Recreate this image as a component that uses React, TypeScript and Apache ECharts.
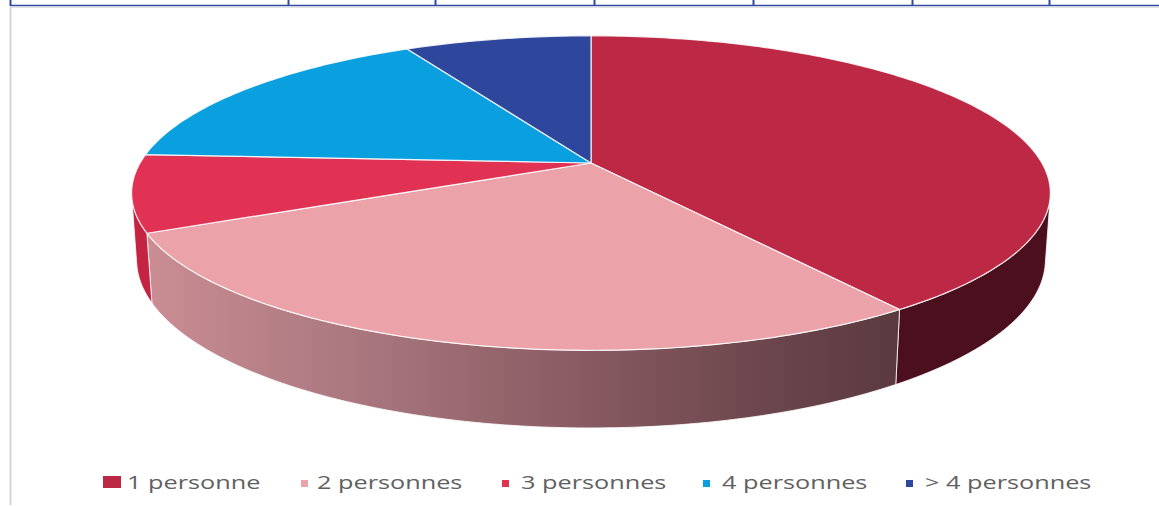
import React, { useEffect, useRef } from "react";
import * as echarts from "echarts";

// ---- data ----
const categories = ["1 personne", "2 personnes", "3 personnes", "4 personnes", "> 4 personnes"];
const shares = [40.2, 27.8, 7.9, 16.2, 7.9];

// ---- styles ----
const topColors = ["#BD2844", "#EBA2A8", "#E13253", "#0A9FDF", "#2E469C"];
const sideColors: any[] = [
  "#4B0F1D",
  new echarts.graphic.LinearGradient(0, 0, 1, 0, [
    { offset: 0, color: "#CA8D93" },
    { offset: 0.27, color: "#AB7880" },
    { offset: 0.53, color: "#8E5F66" },
    { offset: 0.8, color: "#6E484E" },
    { offset: 1, color: "#5A3A40" },
  ]),
  "#C42442",
  "#0679AA",
  "#22347A",
];
const legendMarkerX = [103, 301, 502, 703, 906];
const legendTextX = [127, 317, 521, 722, 925];
const tableTicks = [10, 288, 435, 594, 753, 912, 1049];

// ---- 3D projection (layout) ----
const CX = 591, CY = 163, F = 2223, D = 4.93, SIN = 0.336, H = 0.1545;
const COS = Math.sqrt(1 - SIN * SIN);
function proj(x: number, yw: number, z: number): number[] {
  const cz = -yw * SIN + z * COS + D;
  const cy = yw * COS + z * SIN;
  return [CX + (F * x) / cz, CY - (F * cy) / cz];
}
const thetaL = Math.acos(-1 / (D * COS));
const thetaR = 2 * Math.PI - thetaL;

function arc(a: number, b: number, yw: number): number[][] {
  const pts: number[][] = [];
  const n = Math.max(2, Math.ceil(((b - a) * 180) / Math.PI));
  for (let k = 0; k <= n; k++) {
    const t = a + ((b - a) * k) / n;
    pts.push(proj(Math.sin(t), yw, Math.cos(t)));
  }
  return pts;
}

export default function App() {
  const ref = useRef<HTMLDivElement>(null);
  useEffect(() => {
    if (!ref.current) return;
    const chart = echarts.init(ref.current, null, { renderer: "svg" });
    const total = shares.reduce((s, v) => s + v, 0);
    const cum: number[] = [];
    shares.reduce((s, v, i) => {
      cum[i] = s;
      return s + v;
    }, 0);

    const renderItem = (params: any, api: any) => {
      const i = params.dataIndex;
      const v = api.value(0);
      const start = (cum[i] / total) * 2 * Math.PI;
      const end = ((cum[i] + v) / total) * 2 * Math.PI;
      const children: any[] = [];
      const a = Math.max(start, thetaL);
      const b = Math.min(end, thetaR);
      if (a < b) {
        const topArc = arc(a, b, 0);
        const botArc = arc(a, b, -H).reverse();
        children.push({
          type: "polygon",
          z2: 1,
          shape: { points: topArc.concat(botArc) },
          style: { fill: sideColors[i], stroke: "rgba(255,255,255,0.8)", lineWidth: 1, lineJoin: "round" },
        });
      }
      const topPts = [proj(0, 0, 0)].concat(arc(start, end, 0));
      children.push({
        type: "polygon",
        z2: 10,
        shape: { points: topPts },
        style: { fill: topColors[i], stroke: "rgba(255,255,255,0.85)", lineWidth: 1.2, lineJoin: "round" },
      });
      return { type: "group", children };
    };

    const graphics: any[] = [];
    // table border at top
    graphics.push({
      type: "line",
      shape: { x1: 10, y1: 5.5, x2: 1159, y2: 5.5 },
      style: { stroke: "#2F4A9E", lineWidth: 1.6 },
    });
    tableTicks.forEach((x) =>
      graphics.push({
        type: "line",
        shape: { x1: x + 0.5, y1: 0, x2: x + 0.5, y2: 6 },
        style: { stroke: "#2F4A9E", lineWidth: 2 },
      })
    );
    graphics.push({
      type: "line",
      shape: { x1: 10, y1: 7.5, x2: 1159, y2: 7.5 },
      style: { stroke: "#E3E3E3", lineWidth: 1 },
    });
    graphics.push({
      type: "line",
      shape: { x1: 10.5, y1: 7, x2: 10.5, y2: 505 },
      style: { stroke: "#D6D6D6", lineWidth: 2 },
    });
    // legend
    categories.forEach((name, i) => {
      const big = i === 0;
      graphics.push({
        type: "rect",
        shape: big ? { x: legendMarkerX[i], y: 476, width: 18, height: 12 } : { x: legendMarkerX[i], y: 480, width: 7, height: 7 },
        style: { fill: topColors[i] },
      });
      graphics.push({
        type: "text",
        x: legendTextX[i],
        y: 481.5,
        scaleX: 1.33,
        style: {
          text: name,
          fill: "#606060",
          font: '19px "Open Sans"',
          textVerticalAlign: "middle",
          textAlign: "left",
        },
      });
    });

    chart.setOption({
      animation: false,
      backgroundColor: "#ffffff",
      graphic: graphics,
      series: [
        {
          type: "custom",
          coordinateSystem: "none",
          renderItem,
          data: shares.map((v, i) => ({ value: [v], name: categories[i] })),
          silent: true,
        },
      ],
    });
    return () => chart.dispose();
  }, []);
  return <div ref={ref} style={{ position: "fixed", left: 0, top: 0, width: 1159, height: 506 }} />;
}
